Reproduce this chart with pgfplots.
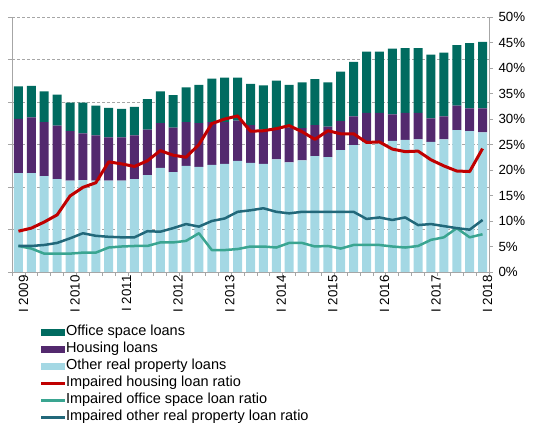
\documentclass[border=0pt]{standalone}
\usepackage{fontspec}
\setmainfont{Liberation Sans}
\usepackage{pgfplots}
\pgfplotsset{compat=1.18}
\usepackage{pgfplotstable}

\definecolor{office}{RGB}{0,107,96}
\definecolor{housing}{RGB}{83,41,110}
\definecolor{other}{RGB}{164,216,228}
\definecolor{redl}{RGB}{192,0,0}
\definecolor{greenl}{RGB}{58,165,145}
\definecolor{tealb}{RGB}{34,104,122}
\definecolor{axgray}{RGB}{166,166,166}

\pgfplotstableread{
q other housing office red greenl tealb
1 19.4 10.6 6.4 8.0 5.1 5.1
2 19.4 10.9 6.2 8.6 4.6 5.1
3 18.8 10.6 6.0 9.8 3.6 5.3
4 18.2 10.5 6.1 11.2 3.6 5.7
5 17.9 9.7 5.6 14.9 3.6 6.6
6 18.0 9.2 6.0 16.6 3.8 7.6
7 17.9 8.9 5.8 17.5 3.8 7.1
8 17.9 8.5 5.8 21.6 4.8 6.9
9 17.9 8.5 5.6 21.2 5.0 6.8
10 18.2 8.6 5.6 20.7 5.1 6.8
11 19.0 8.9 6.0 21.8 5.1 8.0
12 20.4 8.8 6.2 23.8 5.8 7.9
13 19.6 8.7 6.4 22.9 5.8 8.6
14 20.8 8.6 6.8 22.5 6.1 9.4
15 20.6 8.6 7.5 25.0 7.6 8.9
16 21.0 8.4 8.5 29.1 4.3 10.0
17 21.2 8.2 8.7 30.0 4.3 10.5
18 21.8 7.9 8.4 30.6 4.5 11.8
19 21.4 7.4 8.1 27.6 5.0 12.1
20 21.2 6.7 8.7 27.7 5.0 12.5
21 22.1 6.0 9.4 28.1 4.8 11.8
22 21.5 6.8 8.4 28.7 5.7 11.5
23 21.9 6.3 9.0 27.5 5.7 11.8
24 22.7 6.1 9.0 26.0 5.0 11.8
25 22.5 6.0 8.7 27.7 5.1 11.8
26 23.9 5.7 9.7 27.1 4.6 11.8
27 24.9 5.6 10.7 27.1 5.3 11.8
28 25.5 5.7 12.0 25.4 5.3 10.4
29 25.3 5.9 12.0 25.5 5.3 10.7
30 25.7 5.2 12.9 24.1 5.0 10.2
31 25.9 5.3 12.7 23.6 4.8 10.7
32 26.0 5.2 12.7 23.7 5.1 9.2
33 25.5 4.6 12.5 22.0 6.3 9.4
34 26.0 4.5 12.5 20.8 6.8 9.0
35 27.8 4.8 11.9 19.8 8.6 8.6
36 27.6 4.5 12.8 19.7 6.8 8.3
37 27.4 4.7 13.0 24.2 7.4 10.2
}\data

\begin{document}
\begin{tikzpicture}
\useasboundingbox (0,0) rectangle (536bp,429bp);
\begin{axis}[
  at={(12bp,157bp)}, anchor=south west,
  scale only axis, width=477bp, height=255bp,
  xmin=0.5, xmax=37.5, ymin=0, ymax=50,
  ybar stacked, bar width=9bp,
  axis x line*=bottom, axis y line*=left,
  axis line style={draw=axgray, line width=0.75bp, -},
  tick style={draw=axgray, line width=0.75bp},
  tick align=outside, major tick length=4bp,
  ytick={0,8.33333,16.66667,25,33.33333,41.66667,50}, yticklabels={},
  ymajorgrids, grid style={draw=axgray, line width=0.75bp, dash pattern=on 3bp off 2bp},
  xtick={0.5,1.5,...,37.5}, xticklabels={},
  extra x ticks={1,5,9,13,17,21,25,29,33,37},
  extra x tick labels={I 2009,I 2010,I 2011,I 2012,I 2013,I 2014,I 2015,I 2016,I 2017,I 2018},
  extra x tick style={major tick length=0pt, tick label style={rotate=90, anchor=east, font=\fontsize{13.3bp}{16bp}\selectfont, text=black, yshift=-5bp}},
]
\addplot[fill=other, draw=none] table[x=q,y=other]{\data};
\addplot[fill=housing, draw=none] table[x=q,y=housing]{\data};
\addplot[fill=office, draw=none] table[x=q,y=office]{\data};
\end{axis}
\begin{axis}[
  at={(12bp,157bp)}, anchor=south west,
  scale only axis, width=477bp, height=255bp,
  xmin=0.5, xmax=37.5, ymin=0, ymax=50,
  axis x line=none, axis y line*=right,
  axis line style={draw=axgray, line width=0.75bp, -},
  tick style={draw=axgray, line width=0.75bp},
  tick align=outside, major tick length=4bp,
  ytick={0,5,...,50},
  yticklabels={0\%,5\%,10\%,15\%,20\%,25\%,30\%,35\%,40\%,45\%,50\%},
  yticklabel style={font=\fontsize{13.3bp}{16bp}\selectfont, anchor=west, xshift=2bp},
  legend cell align=left,
  legend style={at={(axis description cs:0.0587,-0.204)}, anchor=north west,
    draw=none, fill=none, inner sep=0pt, outer sep=0pt, row sep=0pt,
    font=\fontsize{14.5bp}{17bp}\selectfont,
    nodes={inner sep=0pt, text height=11.5bp, text depth=5.5bp},
    /tikz/every even column/.append style={column sep=3bp}},
]
\addlegendimage{legend image code/.code={\fill[office] (0bp,-3bp) rectangle (23bp,3bp);}}
\addlegendentry{Office space loans}
\addlegendimage{legend image code/.code={\fill[housing] (0bp,-3bp) rectangle (23bp,3bp);}}
\addlegendentry{Housing loans}
\addlegendimage{legend image code/.code={\fill[other] (0bp,-3bp) rectangle (23bp,3bp);}}
\addlegendentry{Other real property loans}
\addplot[redl, line width=3bp, line join=round, legend image code/.code={\draw[redl,line width=3bp] (0bp,0bp)--(23bp,0bp);}] table[x=q,y=red]{\data};
\addlegendentry{Impaired housing loan ratio}
\addplot[greenl, line width=2.5bp, line join=round, legend image code/.code={\draw[greenl,line width=3bp] (0bp,0bp)--(23bp,0bp);}] table[x=q,y=greenl]{\data};
\addlegendentry{Impaired office space loan ratio}
\addplot[tealb, line width=2.5bp, line join=round, legend image code/.code={\draw[tealb,line width=3bp] (0bp,0bp)--(23bp,0bp);}] table[x=q,y=tealb]{\data};
\addlegendentry{Impaired other real property loan ratio}
\end{axis}
\end{tikzpicture}
\end{document}
